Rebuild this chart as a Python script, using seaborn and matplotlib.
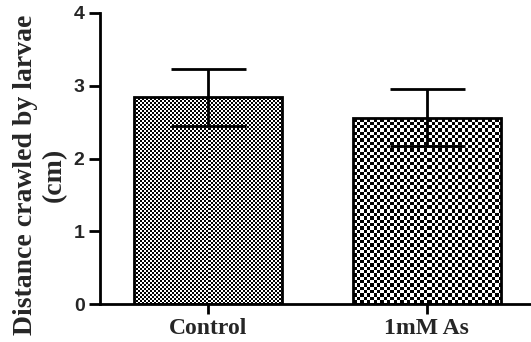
import numpy as np
import pandas as pd
import matplotlib
matplotlib.use("Agg")
import matplotlib.pyplot as plt
import seaborn as sns

categories = ["Control", "1mM As"]
means = [2.84, 2.56]
errors = [0.39, 0.39]
y_ticks = [0, 1, 2, 3, 4]

sns.set_style("ticks")
plt.rcParams["font.family"] = ["Liberation Serif", "DejaVu Serif"]

df = pd.DataFrame({"group": categories, "value": means})

fig = plt.figure(figsize=(5.31, 3.42), dpi=100)
ax = fig.add_axes([0.188, 0.111, 0.812, 0.851])

sns.barplot(data=df, x="group", y="value", order=categories, ax=ax,
            width=0.676, color="white", edgecolor="black", linewidth=2,
            errorbar=None, zorder=3)

ax.errorbar(np.arange(len(categories)), means, yerr=errors, fmt="none",
            ecolor="black", elinewidth=2, capsize=27, capthick=2, zorder=5)

ax.set_xlim(-0.493, 1.475)
ax.set_ylim(0, 4)
ax.set_yticks(y_ticks)
ax.set_yticklabels([str(t) for t in y_ticks], family=["Liberation Sans", "DejaVu Sans"],
                   fontweight="bold", fontsize=14)
ax.set_xticks(range(len(categories)))
ax.set_xticklabels(categories, fontweight="bold", fontsize=17)
ax.set_xlabel("")
ax.set_ylabel("Distance crawled by larvae\n(cm)", fontweight="bold", fontsize=20,
              linespacing=1.2)
ax.yaxis.set_label_coords(-0.076, 0.443)
for s in ["top", "right"]:
    ax.spines[s].set_visible(False)
for s in ["left", "bottom"]:
    ax.spines[s].set_linewidth(2)
    ax.spines[s].set_color("black")
ax.tick_params(axis="y", length=8, width=2, pad=3, color="black")
ax.tick_params(axis="x", length=7, width=2, pad=3, color="black")

# checkerboard textures clipped to bars
fig.canvas.draw()
cells = [2.0, 3.35]
for patch, c in zip(ax.patches[:len(categories)], cells):
    x0 = patch.get_x(); w = patch.get_width()
    y0 = patch.get_y(); h = patch.get_height()
    p0 = ax.transData.transform((x0, y0))
    p1 = ax.transData.transform((x0 + w, y0 + h))
    wpx = int(round(abs(p1[0] - p0[0]))); hpx = int(round(abs(p1[1] - p0[1])))
    jj, ii = np.meshgrid(np.arange(wpx), np.arange(hpx))
    arr = ((np.floor(ii / c) + np.floor(jj / c)) % 2).astype(float)
    im = ax.imshow(arr, cmap="gray", vmin=0, vmax=1, extent=(x0, x0 + w, y0, y0 + h),
                   origin="lower", interpolation="nearest", aspect="auto", zorder=2)
    im.set_clip_path(patch)
    patch.set_facecolor("none")

ax.set_xlim(-0.493, 1.475)
ax.set_ylim(0, 4)
fig.savefig("out.png", dpi=100)
